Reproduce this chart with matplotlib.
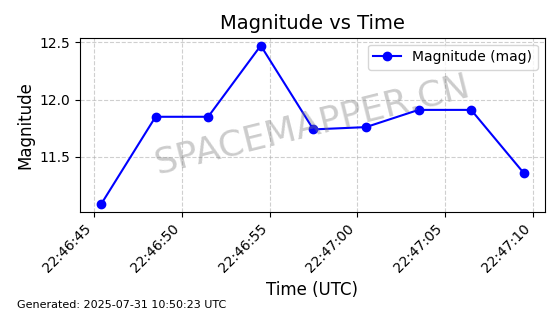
import matplotlib
matplotlib.use("Agg")
import matplotlib.pyplot as plt
import matplotlib.dates as mdates
import pandas as pd

times = [
    "2025-07-31 22:46:45.4",
    "2025-07-31 22:46:48.5",
    "2025-07-31 22:46:51.5",
    "2025-07-31 22:46:54.5",
    "2025-07-31 22:46:57.5",
    "2025-07-31 22:47:00.5",
    "2025-07-31 22:47:03.5",
    "2025-07-31 22:47:06.5",
    "2025-07-31 22:47:09.5",
]
magnitudes = [11.09, 11.85, 11.85, 12.47, 11.74, 11.76, 11.91, 11.91, 11.36]
yticks = [11.5, 12.0, 12.5]

t = pd.to_datetime(times)

fig, ax = plt.subplots(figsize=(5.6, 3.14), dpi=100)
ax.plot(t, magnitudes, color="blue", marker="o", markersize=6, linewidth=1.5,
        label="Magnitude (mag)")
ax.set_title("Magnitude vs Time", fontsize=14)
ax.set_xlabel("Time (UTC)", fontsize=12)
ax.set_ylabel("Magnitude", fontsize=12)
ax.set_yticks(yticks)
ax.xaxis.set_major_locator(mdates.SecondLocator(bysecond=range(0, 60, 5)))
ax.xaxis.set_major_formatter(mdates.DateFormatter("%H:%M:%S"))
plt.setp(ax.get_xticklabels(), rotation=45, ha="right")
ax.grid(True, linestyle="--", alpha=0.6)
ax.legend(loc="upper right")

ax.text(0.5, 0.5, "SPACEMAPPER.CN", transform=ax.transAxes, fontsize=26,
        color="gray", alpha=0.4, rotation=14, ha="center", va="center")

fig.text(0.03, 0.02, "Generated: 2025-07-31 10:50:23 UTC", fontsize=8)

fig.subplots_adjust(left=0.143, right=0.973, top=0.88, bottom=0.325)
fig.savefig("out.png", dpi=100)
